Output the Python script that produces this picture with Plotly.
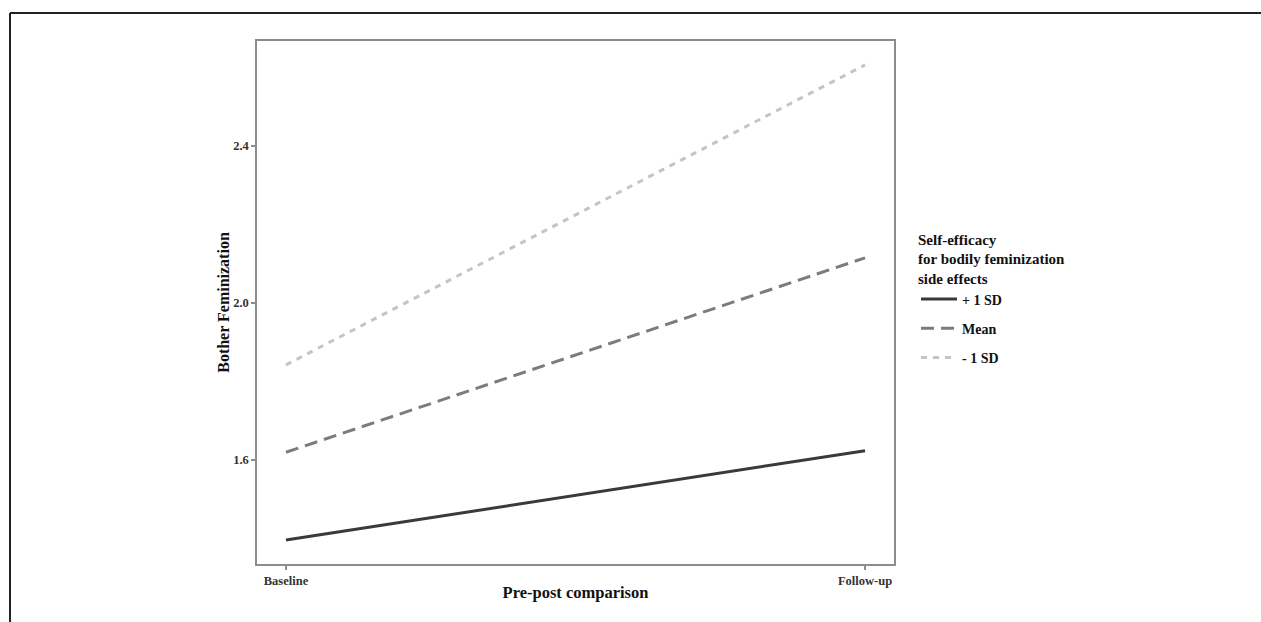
import plotly.graph_objects as go

# ---- data ----
timepoints = ["Baseline", "Follow-up"]
series_names = ["+ 1 SD", "Mean", "- 1 SD"]
plus_1sd = [1.395, 1.623]
mean_vals = [1.619, 2.115]
minus_1sd = [1.842, 2.607]
y_ticks = [1.6, 2.0, 2.4]

series_values = [plus_1sd, mean_vals, minus_1sd]
colors = ["#3a3a3a", "#7c7c7c", "#c4c4c4"]
dashes = ["solid", "13px,7px", "6px,6px"]

FONT = "Liberation Serif, Times New Roman, serif"

x_idx = list(range(len(timepoints)))

fig = go.Figure()
for i, (name, vals) in enumerate(zip(series_names, series_values)):
    fig.add_trace(go.Scatter(
        x=x_idx, y=vals, mode="lines", name="<b>%s</b>" % name,
        legendgroup=name,
        line=dict(color=colors[i], width=3, dash=dashes[i]),
    ))

W, H = 1261, 622
L, R, T, B = 257, 894, 41, 564

def px_x(p):
    return (p - L) / (R - L)

def px_y(p):
    return (B - p) / (B - T)

fig.update_layout(
    width=W, height=H,
    margin=dict(l=L, r=W - R, t=T, b=H - B, pad=0),
    paper_bgcolor="white", plot_bgcolor="white",
    font=dict(family=FONT, color="#222"),
    showlegend=True,
    legend=dict(
        x=px_x(916), xanchor="left", y=px_y(225), yanchor="top",
        title=dict(text="<b>Self-efficacy<br>for bodily feminization<br>side effects</b>",
                   font=dict(family=FONT, size=15, color="#111"), side="top"),
        font=dict(family=FONT, size=14, color="#111"),
        tracegroupgap=8,
        itemwidth=36,
        bgcolor="rgba(0,0,0,0)",
    ),
    xaxis=dict(
        range=[-0.05, 1.05],
        tickvals=x_idx, ticktext=["<b>%s</b>" % t for t in timepoints],
        tickfont=dict(family=FONT, size=12.5, color="#333"),
        showgrid=False, zeroline=False,
        showline=True, linecolor="#8c8c8c", linewidth=1.5, mirror=True,
        ticks="outside", ticklen=4, tickcolor="#8c8c8c", tickwidth=1.5,
        title=dict(text="<b>Pre-post comparison</b>",
                   font=dict(family=FONT, size=16.5, color="#111"), standoff=0),
    ),
    yaxis=dict(
        range=[1.334, 2.668],
        tickvals=y_ticks, ticktext=["<b>%.1f</b>" % v for v in y_ticks],
        tickfont=dict(family=FONT, size=12.5, color="#333"),
        showgrid=False, zeroline=False,
        showline=True, linecolor="#8c8c8c", linewidth=1.5, mirror=True,
        ticks="outside", ticklen=4, tickcolor="#8c8c8c", tickwidth=1.5,
        title=dict(text="<b>Bother Feminization</b>",
                   font=dict(family=FONT, size=16, color="#111"), standoff=0),
    ),
    shapes=[
        dict(type="line", xref="paper", yref="paper",
             x0=px_x(10), x1=px_x(1262), y0=px_y(13), y1=px_y(13),
             line=dict(color="#222", width=2)),
        dict(type="line", xref="paper", yref="paper",
             x0=px_x(10), x1=px_x(10), y0=px_y(13), y1=px_y(623),
             line=dict(color="#222", width=2)),
    ],
)

fig.write_html("out.html",
               config={"displayModeBar": False},
               post_script="document.body.style.margin='0';document.body.style.overflow='hidden';")
